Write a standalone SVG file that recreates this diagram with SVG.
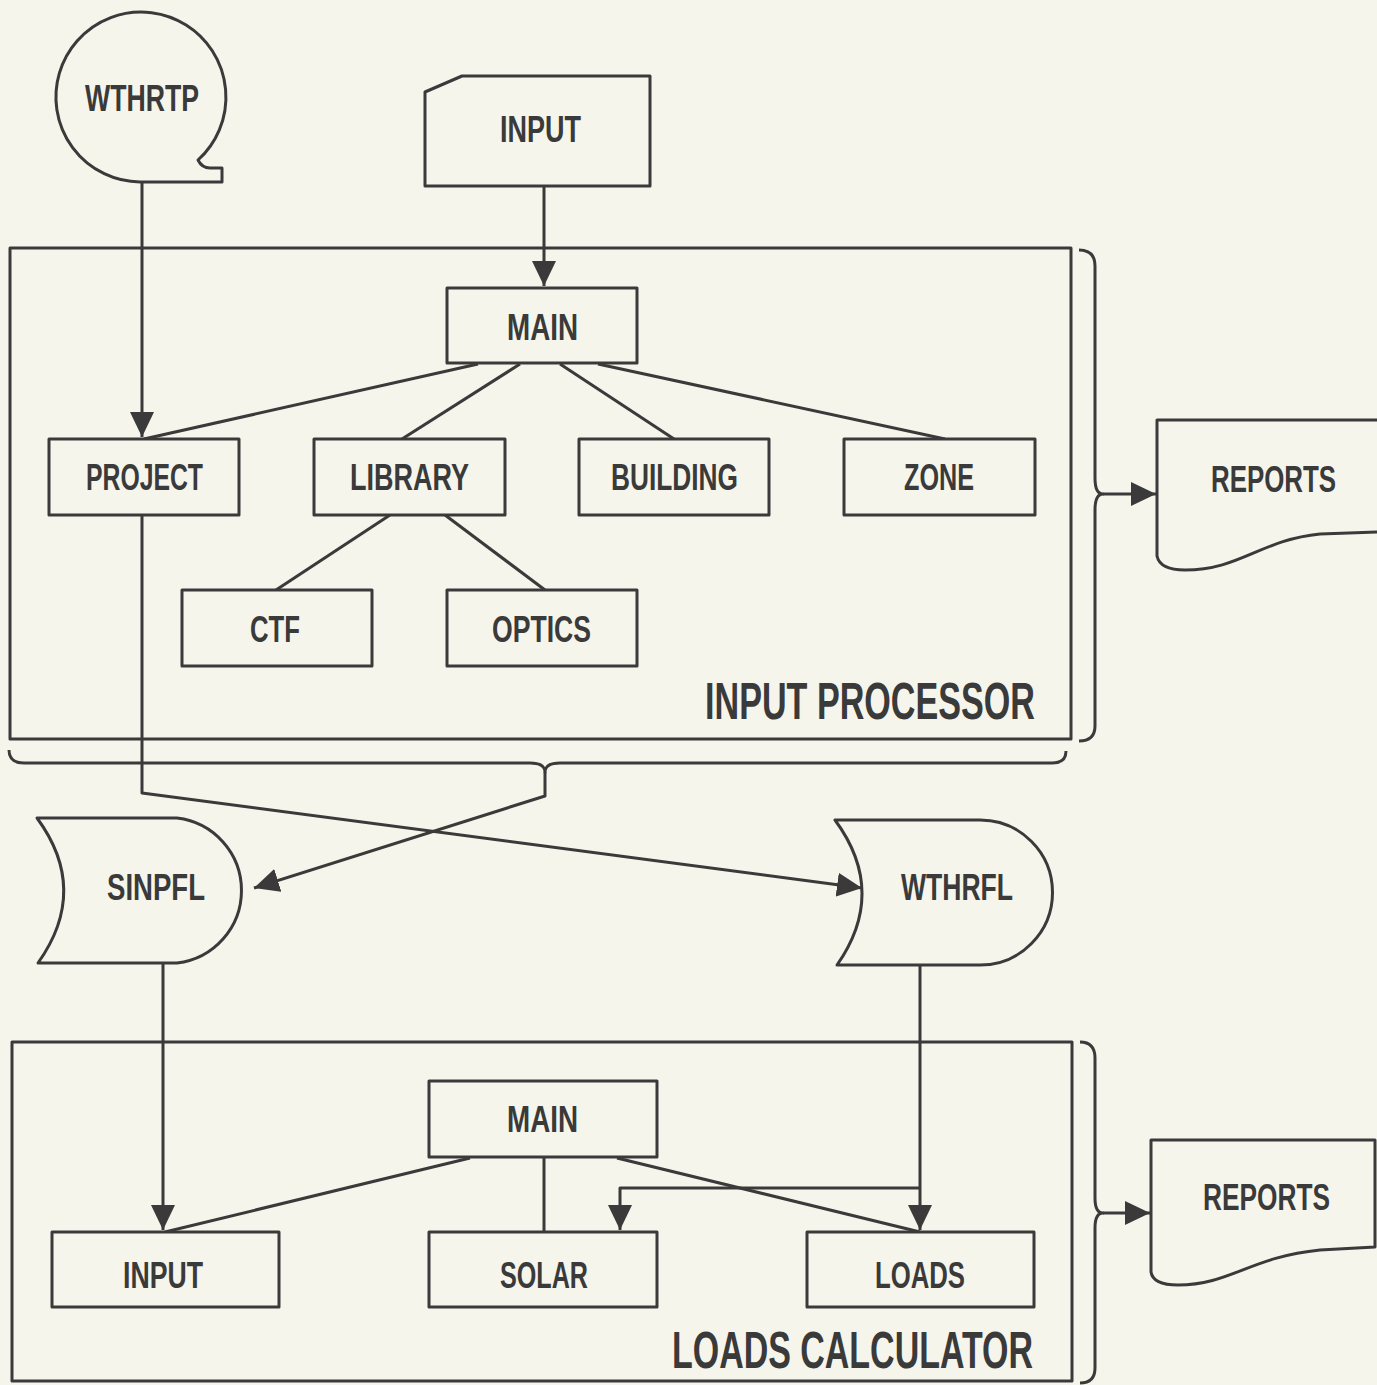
<svg xmlns="http://www.w3.org/2000/svg" width="1377" height="1385" viewBox="0 0 1377 1385">
<defs>
<style>
.s{fill:none;stroke:#3a3a3a;stroke-width:3;stroke-linejoin:round}
.b{fill:#f6f5ec;stroke:#3a3a3a;stroke-width:3;stroke-linejoin:round}
.t{font-family:"Liberation Sans",Arial,sans-serif;font-weight:bold;font-size:37px;fill:#3a3a3a}
.big{font-size:51px}
</style>
<marker id="ah" markerUnits="userSpaceOnUse" markerWidth="26" markerHeight="24" refX="25" refY="12" orient="auto">
<path d="M0,0 L25,12 L0,24 Z" fill="#3a3a3a"/>
</marker>
</defs>
<rect x="0" y="0" width="1377" height="1385" fill="#f6f5ec"/>

<g id="frame-input-processor">
<rect class="s" x="10" y="248" width="1061" height="491"/>
<text class="t big" x="705" y="719" textLength="330" lengthAdjust="spacingAndGlyphs">INPUT PROCESSOR</text>
</g>
<g id="frame-loads-calculator">
<rect class="s" x="12" y="1042" width="1060" height="339"/>
<text class="t big" x="672" y="1368" textLength="361" lengthAdjust="spacingAndGlyphs">LOADS CALCULATOR</text>
</g>

<g id="connectors">
<path class="s" d="M142 182 L142 437" marker-end="url(#ah)"/>
<path class="s" d="M544 186 L544 286" marker-end="url(#ah)"/>
<path class="s" d="M478 364 L144 439"/>
<path class="s" d="M520 364 L402 439"/>
<path class="s" d="M560 364 L674 439"/>
<path class="s" d="M598 364 L945 439"/>
<path class="s" d="M390 515 L276 590"/>
<path class="s" d="M445 515 L545 590"/>
<path class="s" d="M1079 250 Q1095 250 1095 266 L1095 478 Q1095 494 1103 494 Q1095 494 1095 510 L1095 726 Q1095 741 1079 741"/>
<path class="s" d="M1103 494 L1156 494" marker-end="url(#ah)"/>
<path class="s" d="M9 750 Q9 763 24 763 L530 763 Q545 763 545 772 Q545 763 560 763 L1052 763 Q1066 763 1066 751"/>
<path class="s" d="M545 772 L545 796 L254 888" marker-end="url(#ah)"/>
<path class="s" d="M142 515 L142 793 L862 888" marker-end="url(#ah)"/>
<path class="s" d="M163 963 L163 1230" marker-end="url(#ah)"/>
<path class="s" d="M920 965 L920 1230" marker-end="url(#ah)"/>
<path class="s" d="M920 1188 L620 1188 L620 1230" marker-end="url(#ah)"/>
<path class="s" d="M470 1158 L165 1232"/>
<path class="s" d="M544 1158 L544 1232"/>
<path class="s" d="M617 1158 L920 1232"/>
<path class="s" d="M1080 1042 Q1095 1042 1095 1058 L1095 1198 Q1095 1213 1103 1213 Q1095 1213 1095 1228 L1095 1368 Q1095 1383 1080 1383"/>
<path class="s" d="M1103 1213 L1150 1213" marker-end="url(#ah)"/>
</g>

<g id="wthrtp">
<path class="b" d="M140 182 A85 85 0 1 1 198 160 Q202 168 210 168 L222 168 L222 182 Z"/>
<text class="t" x="85" y="111" textLength="114" lengthAdjust="spacingAndGlyphs">WTHRTP</text>
</g>
<g id="input-card">
<path class="b" d="M425 92 L462 76 L650 76 L650 186 L425 186 Z"/>
<text class="t" x="500" y="142" textLength="81" lengthAdjust="spacingAndGlyphs">INPUT</text>
</g>
<g id="ip-main">
<rect class="b" x="447" y="288" width="190" height="75"/>
<text class="t" x="507" y="340" textLength="71" lengthAdjust="spacingAndGlyphs">MAIN</text>
</g>
<g id="project">
<rect class="b" x="49" y="439" width="190" height="76"/>
<text class="t" x="86" y="490" textLength="117" lengthAdjust="spacingAndGlyphs">PROJECT</text>
</g>
<g id="library">
<rect class="b" x="314" y="439" width="191" height="76"/>
<text class="t" x="350" y="490" textLength="119" lengthAdjust="spacingAndGlyphs">LIBRARY</text>
</g>
<g id="building">
<rect class="b" x="579" y="439" width="190" height="76"/>
<text class="t" x="611" y="490" textLength="127" lengthAdjust="spacingAndGlyphs">BUILDING</text>
</g>
<g id="zone">
<rect class="b" x="844" y="439" width="191" height="76"/>
<text class="t" x="904" y="490" textLength="70" lengthAdjust="spacingAndGlyphs">ZONE</text>
</g>
<g id="ctf">
<rect class="b" x="182" y="590" width="190" height="76"/>
<text class="t" x="250" y="642" textLength="50" lengthAdjust="spacingAndGlyphs">CTF</text>
</g>
<g id="optics">
<rect class="b" x="447" y="590" width="190" height="76"/>
<text class="t" x="492" y="642" textLength="99" lengthAdjust="spacingAndGlyphs">OPTICS</text>
</g>
<g id="reports-1">
<path class="b" d="M1377 420 L1157 420 L1157 556 Q1160 570 1185 570 C1240 570 1260 540 1320 534 L1377 532"/>
<text class="t" x="1211" y="492" textLength="125" lengthAdjust="spacingAndGlyphs">REPORTS</text>
</g>
<g id="sinpfl">
<path class="b" d="M37 818 L177 818 A73 73 0 0 1 177 963 L38 963 Q90 890 37 818 Z"/>
<text class="t" x="107" y="900" textLength="98" lengthAdjust="spacingAndGlyphs">SINPFL</text>
</g>
<g id="wthrfl">
<path class="b" d="M835 820 L980 820 A72 72 0 0 1 980 965 L837 965 Q888 892 835 820 Z"/>
<text class="t" x="901" y="900" textLength="112" lengthAdjust="spacingAndGlyphs">WTHRFL</text>
</g>
<g id="lc-main">
<rect class="b" x="429" y="1081" width="228" height="76"/>
<text class="t" x="507" y="1132" textLength="71" lengthAdjust="spacingAndGlyphs">MAIN</text>
</g>
<g id="lc-input">
<rect class="b" x="52" y="1232" width="227" height="75"/>
<text class="t" x="123" y="1288" textLength="80" lengthAdjust="spacingAndGlyphs">INPUT</text>
</g>
<g id="solar">
<rect class="b" x="429" y="1232" width="228" height="75"/>
<text class="t" x="500" y="1288" textLength="88" lengthAdjust="spacingAndGlyphs">SOLAR</text>
</g>
<g id="loads">
<rect class="b" x="807" y="1232" width="227" height="75"/>
<text class="t" x="875" y="1288" textLength="90" lengthAdjust="spacingAndGlyphs">LOADS</text>
</g>
<g id="reports-2">
<path class="b" d="M1375 1140 L1151 1140 L1151 1272 Q1153 1285 1178 1285 C1230 1285 1250 1257 1320 1250 L1375 1247 Z"/>
<text class="t" x="1203" y="1210" textLength="127" lengthAdjust="spacingAndGlyphs">REPORTS</text>
</g>
</svg>
